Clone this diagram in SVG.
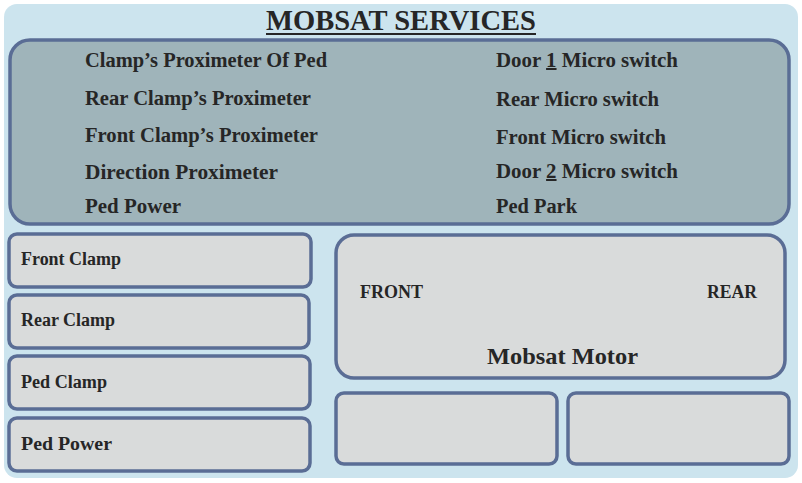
<svg xmlns="http://www.w3.org/2000/svg" width="802" height="483" viewBox="0 0 802 483">
<style>
.t{font-family:"Liberation Serif","Times New Roman",serif;font-weight:bold;fill:#262626}
.s{font-size:20px}
.b{font-size:18px}
.box{fill:#d9dbdb;stroke:#5a6d95;stroke-width:3.5}
.u{text-decoration:underline}
</style>
<rect x="4" y="4" width="794" height="474" rx="13" fill="#cce4ee"/>
<g id="title">
<text class="t" x="401" y="30" font-size="30" text-anchor="middle" textLength="270" lengthAdjust="spacingAndGlyphs">MOBSAT SERVICES</text>
<rect x="266" y="33" width="270" height="2" fill="#262626"/>
</g>
<g id="services">
<rect x="10" y="40" width="779" height="184" rx="20" fill="#9fb4ba" stroke="#5a6d95" stroke-width="3.5"/>
<text class="t s" x="85" y="67" textLength="242" lengthAdjust="spacingAndGlyphs">Clamp’s Proximeter Of Ped</text>
<text class="t s" x="85" y="105" textLength="226" lengthAdjust="spacingAndGlyphs">Rear Clamp’s Proximeter</text>
<text class="t s" x="85" y="142" textLength="233" lengthAdjust="spacingAndGlyphs">Front Clamp’s Proximeter</text>
<text class="t s" x="85" y="179" textLength="193" lengthAdjust="spacingAndGlyphs">Direction Proximeter</text>
<text class="t s" x="85" y="213" textLength="96" lengthAdjust="spacingAndGlyphs">Ped Power</text>
<text class="t s" x="496" y="67" textLength="182" lengthAdjust="spacingAndGlyphs">Door <tspan class="u">1</tspan> Micro switch</text>
<text class="t s" x="496" y="106" textLength="163" lengthAdjust="spacingAndGlyphs">Rear Micro switch</text>
<text class="t s" x="496" y="144" textLength="170" lengthAdjust="spacingAndGlyphs">Front Micro switch</text>
<text class="t s" x="496" y="178" textLength="182" lengthAdjust="spacingAndGlyphs">Door <tspan class="u">2</tspan> Micro switch</text>
<text class="t s" x="496" y="213" textLength="81" lengthAdjust="spacingAndGlyphs">Ped Park</text>
</g>
<g id="front-clamp">
<rect class="box" x="9" y="234" width="302" height="53" rx="8"/>
<text class="t b" x="21" y="265" textLength="100" lengthAdjust="spacingAndGlyphs">Front Clamp</text>
</g>
<g id="rear-clamp">
<rect class="box" x="9" y="295" width="300" height="53" rx="8"/>
<text class="t b" x="21" y="326" textLength="94" lengthAdjust="spacingAndGlyphs">Rear Clamp</text>
</g>
<g id="ped-clamp">
<rect class="box" x="9" y="356" width="301" height="53" rx="8"/>
<text class="t b" x="21" y="388" textLength="86" lengthAdjust="spacingAndGlyphs">Ped Clamp</text>
</g>
<g id="ped-power">
<rect class="box" x="9" y="418" width="301" height="53" rx="8"/>
<text class="t b" x="21" y="450" textLength="91" lengthAdjust="spacingAndGlyphs">Ped Power</text>
</g>
<g id="mobsat-motor">
<rect class="box" x="336" y="235" width="449" height="143" rx="18"/>
<text class="t" x="360" y="298" font-size="19" textLength="63" lengthAdjust="spacingAndGlyphs">FRONT</text>
<text class="t" x="707" y="298" font-size="19" textLength="50" lengthAdjust="spacingAndGlyphs">REAR</text>
<text class="t" x="487" y="364" font-size="24" textLength="151" lengthAdjust="spacingAndGlyphs">Mobsat Motor</text>
</g>
<g id="box-a">
<rect class="box" x="336" y="393" width="221" height="71" rx="8"/>
</g>
<g id="box-b">
<rect class="box" x="568" y="393" width="221" height="71" rx="8"/>
</g>
<g id="connectors"></g>
</svg>
